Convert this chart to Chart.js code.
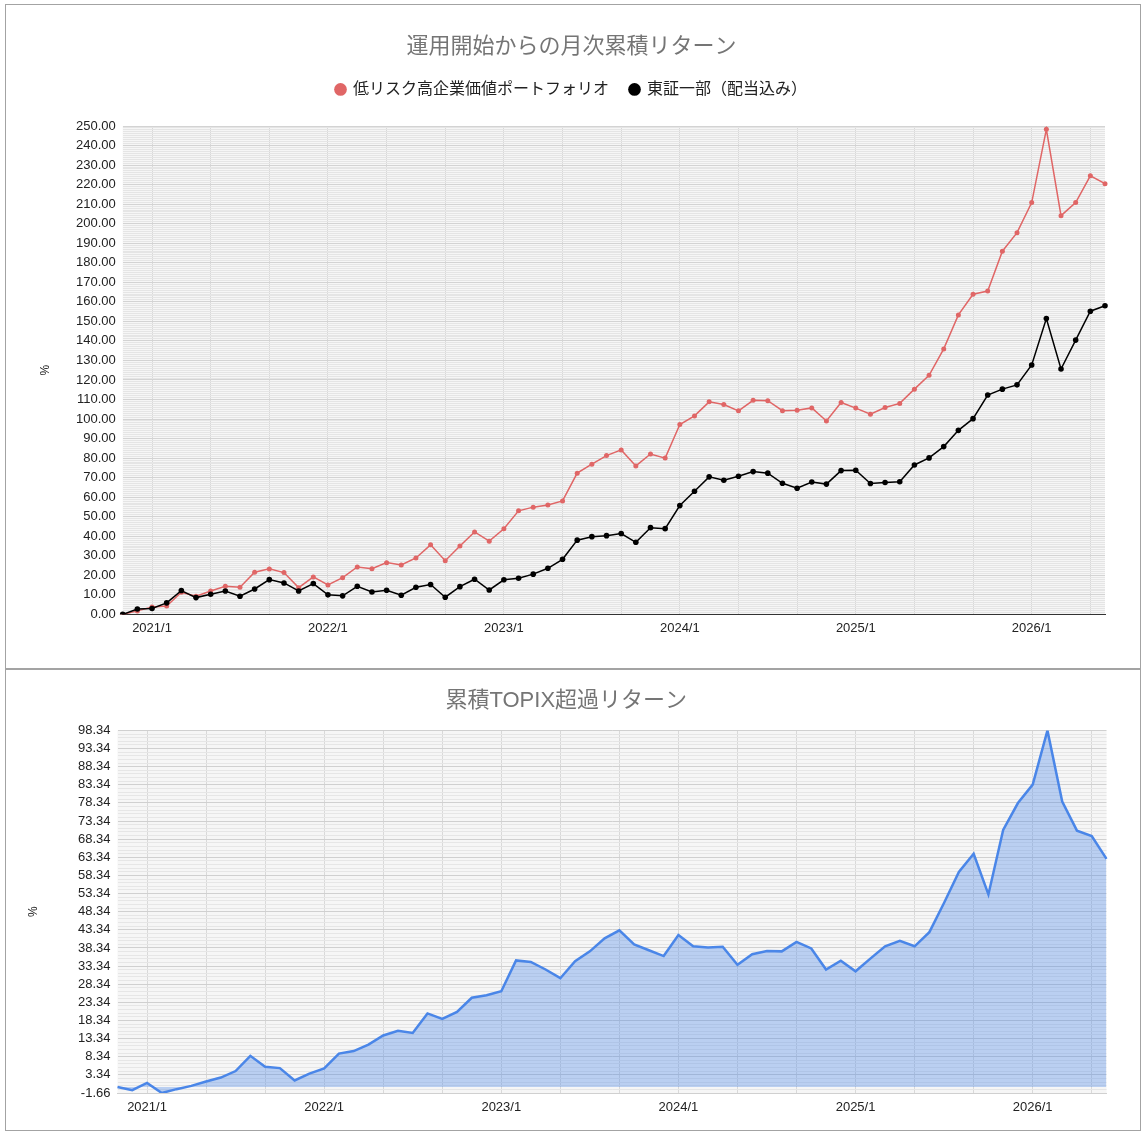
<!DOCTYPE html>
<html><head><meta charset="utf-8">
<script src="https://cdn.jsdelivr.net/npm/chart.js@4/dist/chart.umd.min.js"></script>
<style>
html,body{margin:0;padding:0;background:#fff;width:1146px;height:1137px;overflow:hidden;}
.box{position:absolute;box-sizing:border-box;border:1px solid #a3a3a3;background:#fff;}
#box1{left:5px;top:4px;width:1136px;height:665px;}
#box2{left:5px;top:669px;width:1136px;height:462px;}
canvas{display:block;}
</style></head><body>
<div class="box" id="box1"><canvas id="c1" width="1134" height="663" style="width:1134px;height:663px"></canvas></div>
<div class="box" id="box2"><canvas id="c2" width="1134" height="460" style="width:1134px;height:460px"></canvas></div>
<script>
// ---- data ----
const months = [
 '2020/11','2020/12',
 '2021/1','2021/2','2021/3','2021/4','2021/5','2021/6','2021/7','2021/8','2021/9','2021/10','2021/11','2021/12',
 '2022/1','2022/2','2022/3','2022/4','2022/5','2022/6','2022/7','2022/8','2022/9','2022/10','2022/11','2022/12',
 '2023/1','2023/2','2023/3','2023/4','2023/5','2023/6','2023/7','2023/8','2023/9','2023/10','2023/11','2023/12',
 '2024/1','2024/2','2024/3','2024/4','2024/5','2024/6','2024/7','2024/8','2024/9','2024/10','2024/11','2024/12',
 '2025/1','2025/2','2025/3','2025/4','2025/5','2025/6','2025/7','2025/8','2025/9','2025/10','2025/11','2025/12',
 '2026/1','2026/2','2026/3','2026/4','2026/5','2026/6'
];
const portfolio = [
 0, 1.8,
 3.8, 4.3, 11.3, 9.3, 12.0, 14.4, 13.9, 21.6, 23.3, 21.4, 13.7, 19.2,
 15.1, 18.8, 24.3, 23.4, 26.5, 25.3, 28.9, 35.6, 27.5, 35.0, 42.2, 37.5,
 43.8, 53.0, 54.9, 56.0, 58.1, 72.3, 76.9, 81.3, 84.2, 76.0, 82.1, 80.0,
 97.2, 101.6, 108.8, 107.4, 104.2, 109.6, 109.4, 104.3, 104.5, 105.7, 99.0, 108.5,
 105.6, 102.5, 105.9, 108.0, 115.3, 122.4, 135.9, 153.3, 163.9, 165.5, 185.9, 195.4,
 210.8, 248.3, 204.1, 210.8, 224.5, 220.5
];
const topix = [
 0, 2.8,
 3.0, 5.9, 12.2, 8.6, 10.3, 12.0, 9.3, 13.0, 17.8, 16.1, 12.0, 15.8,
 10.0, 9.5, 14.4, 11.5, 12.4, 9.8, 13.9, 15.3, 8.8, 14.2, 18.0, 12.5,
 17.7, 18.5, 20.6, 23.6, 28.2, 38.0, 39.8, 40.3, 41.4, 36.9, 44.4, 43.9,
 55.7, 63.0, 70.4, 68.7, 70.7, 73.1, 72.3, 67.1, 64.6, 67.8, 66.7, 73.6,
 73.8, 67.0, 67.5, 67.9, 76.5, 80.1, 85.9, 94.2, 100.2, 112.3, 115.3, 117.5,
 127.7, 151.4, 125.6, 140.4, 155.2, 158.0
];
const excess = [
 0, -0.9,
 1.1, -1.66, -0.6, 0.3, 1.5, 2.6, 4.4, 8.6, 5.6, 5.2, 1.8, 3.7,
 5.1, 9.2, 9.9, 11.7, 14.2, 15.5, 14.9, 20.3, 18.8, 20.7, 24.6, 25.3,
 26.4, 34.9, 34.5, 32.4, 30.0, 34.7, 37.4, 41.0, 43.2, 39.3, 37.7, 36.1,
 41.9, 38.8, 38.5, 38.7, 33.7, 36.6, 37.5, 37.4, 40.0, 38.2, 32.4, 34.8,
 31.9, 35.4, 38.8, 40.3, 38.8, 42.7, 50.8, 59.3, 64.3, 53.1, 70.9, 78.3,
 83.4, 98.34, 78.7, 70.7, 69.2, 62.9
];
const xTickLabels = ['2021/1','2022/1','2023/1','2024/1','2025/1','2026/1'];
const topYRange = [0, 250];
const topYLabelStep = 10;
const bottomYRange = [-1.66, 98.34];
const bottomYLabelStep = 5;
const seriesNames = ['低リスク高企業価値ポートフォリオ', '東証一部（配当込み）'];
const titles = ['運用開始からの月次累積リターン', '累積TOPIX超過リターン'];

// ---- styling ----
const FONT = "Arial, 'Liberation Sans', 'Noto Sans CJK JP', sans-serif";
Chart.defaults.font.family = FONT;
Chart.defaults.color = '#222';

const plotBg = {id:'plotBg', beforeDraw(chart){
  const {ctx, chartArea:a} = chart;
  ctx.save(); ctx.fillStyle = '#f6f6f6';
  ctx.fillRect(a.left, a.top, a.right - a.left, a.bottom - a.top);
  ctx.restore();
}};
const legendSpace = {id:'legendSpace', beforeInit(chart){
  const l = chart.legend; if (!l) return;
  const fit = l.fit;
  l.fit = function(){ fit.call(l); l.height += 18.6; };
}};
function monthGrid(i){
  const m = parseInt(months[i].split('/')[1], 10);
  return (m - 1) % 4 === 0;
}
function xScale(borderColor, pad){
  return {
    type:'category', offset:false,
    grid:{drawTicks:false, color: c => monthGrid(c.index) ? '#d9d9d9' : 'rgba(0,0,0,0)'},
    border:{color:borderColor, width:1},
    ticks:{autoSkip:false, maxRotation:0, minRotation:0, padding:pad, color:'#222', font:{size:13},
      callback:(v,i) => xTickLabels.includes(months[i]) ? months[i] : ''}
  };
}

new Chart(document.getElementById('c1'), {
  type:'line',
  data:{labels:months, datasets:[
    {label:seriesNames[0], data:portfolio, borderColor:'#e06666', backgroundColor:'#e06666',
     borderWidth:1.5, pointRadius:2.5, pointBorderWidth:0, tension:0, order:2},
    {label:seriesNames[1], data:topix, borderColor:'#000000', backgroundColor:'#000000',
     borderWidth:1.5, pointRadius:2.8, pointBorderWidth:0, tension:0, order:1}
  ]},
  options:{
    responsive:false, animation:false, devicePixelRatio:1,
    layout:{padding:{left:32, right:35, top:0, bottom:26}},
    plugins:{
      tooltip:{enabled:false},
      title:{display:true, text:titles[0], color:'#757575', font:{size:22, weight:'normal'}, padding:{top:29, bottom:0}},
      legend:{display:true, labels:{usePointStyle:true, pointStyle:'circle', boxWidth:9, boxHeight:9, padding:21, color:'#222', font:{size:16},
        sort:(a,b) => a.datasetIndex - b.datasetIndex}}
    },
    scales:{
      x: xScale('#333', 6),
      y:{min:topYRange[0], max:topYRange[1],
        grid:{drawTicks:false, color: c => (c.tick.value % topYLabelStep === 0) ? '#d3d3d3' : '#e5e5e5'},
        border:{display:false},
        ticks:{stepSize:1, autoSkip:false, padding:7, color:'#222', font:{size:13},
          callback: v => (v % topYLabelStep === 0) ? v.toFixed(2) : ''},
        title:{display:true, text:'%', color:'#222', font:{size:12}, padding:0},
        afterFit(s){ s.width = 84.7; }
      }
    }
  },
  plugins:[plotBg, legendSpace]
});

new Chart(document.getElementById('c2'), {
  type:'line',
  data:{labels:months, datasets:[
    {label:titles[1], data:excess, borderColor:'#4a86e8', backgroundColor:'rgba(74,134,232,0.35)',
     fill:'origin', borderWidth:2.5, pointRadius:0, tension:0}
  ]},
  options:{
    responsive:false, animation:false, devicePixelRatio:1,
    layout:{padding:{left:20, right:33.5, top:0, bottom:7.4}},
    plugins:{
      tooltip:{enabled:false},
      legend:{display:false},
      title:{display:true, text:titles[1], color:'#757575', font:{size:22, weight:'normal'}, padding:{top:18, bottom:16}}
    },
    scales:{
      x: xScale('#d0d0d0', 7),
      y:{min:bottomYRange[0], max:bottomYRange[1],
        grid:{drawTicks:false, color: c => (Math.round(c.tick.value - bottomYRange[0]) % bottomYLabelStep === 0) ? '#d0d0d0' : '#e6e6e6'},
        border:{display:false},
        ticks:{stepSize:1, autoSkip:false, padding:7, color:'#222', font:{size:13},
          callback: v => (Math.round(v - bottomYRange[0]) % bottomYLabelStep === 0) ? v.toFixed(2) : ''},
        title:{display:true, text:'%', color:'#222', font:{size:12}, padding:0},
        afterFit(s){ s.width = 91.5; }
      }
    }
  },
  plugins:[plotBg]
});
</script>
</body></html>
